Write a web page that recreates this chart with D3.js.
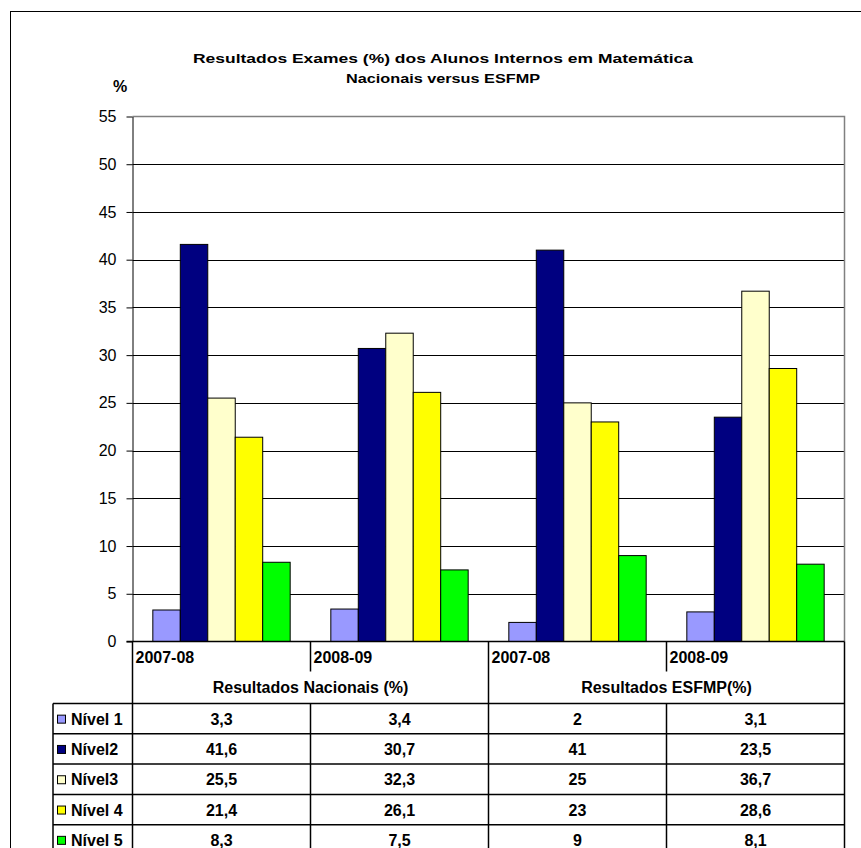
<!DOCTYPE html>
<html>
<head>
<meta charset="utf-8">
<script src="https://cdn.jsdelivr.net/npm/d3@7"></script>
<style>
  body { margin: 0; background: #fff; }
  svg { display: block; font-family: Arial, "Liberation Sans", sans-serif; }
</style>
</head>
<body>
<div id="chart"></div>
<script>
// chart values
var groups = ["Resultados Nacionais (%)", "Resultados ESFMP(%)"];
var years = ["2007-08", "2008-09"];
var levels = ["Nível 1", "Nível2", "Nível3", "Nível 4", "Nível 5"];
var nivel1 = [3.3, 3.4, 2, 3.1];
var nivel2 = [41.6, 30.7, 41, 23.5];
var nivel3 = [25.5, 32.3, 25, 36.7];
var nivel4 = [21.4, 26.1, 23, 28.6];
var nivel5 = [8.3, 7.5, 9, 8.1];
var yTicks = [0, 5, 10, 15, 20, 25, 30, 35, 40, 45, 50, 55];
var titleLines = ["Resultados Exames (%) dos Alunos Internos em Matemática", "Nacionais versus ESFMP"];

var colors = ["#9999ff", "#000080", "#ffffcc", "#ffff00", "#00ff00"];
var series = [nivel1, nivel2, nivel3, nivel4, nivel5];

// columns = group x year
var columns = [];
groups.forEach(function(g, gi) {
	years.forEach(function(yr) {
		columns.push({ key: gi + "|" + yr, group: g, year: yr, gi: gi });
	});
});

var width = 861, height = 848;
var plot = { left: 132.5, right: 844.5, top: 116.5, bottom: 641.5 };

var svg = d3.select("#chart").append("svg")
	.attr("width", width)
	.attr("height", height);

// outer chart border (runs off the right / bottom edge like the original)
svg.append("rect")
	.attr("x", 10.5).attr("y", 11.5)
	.attr("width", width).attr("height", height)
	.attr("fill", "none").attr("stroke", "#000");

// scales
var x0 = d3.scaleBand()
	.domain(columns.map(function(c) { return c.key; }))
	.range([plot.left, plot.right]);

var x1 = d3.scaleBand()
	.domain(levels)
	.range([0, x0.bandwidth()])
	.paddingOuter(0.74);

var y = d3.scaleLinear()
	.domain([0, 55])
	.range([plot.bottom, plot.top]);

// gridlines
svg.append("g")
	.selectAll("line")
	.data(yTicks.filter(function(t) { return t > 0 && t < 55; }))
	.enter().append("line")
		.attr("x1", plot.left).attr("x2", plot.right)
		.attr("y1", function(d) { return Math.round(y(d)) + 0.5; })
		.attr("y2", function(d) { return Math.round(y(d)) + 0.5; })
		.attr("stroke", "#000");

// plot area border top / right (grey)
svg.append("path")
	.attr("d", "M" + plot.left + "," + y(55) + "H" + plot.right + "V" + plot.bottom)
	.attr("fill", "none").attr("stroke", "#808080").attr("stroke-width", 1.5);

// bars
columns.forEach(function(c, ci) {
	svg.append("g")
		.attr("transform", "translate(" + x0(c.key) + ",0)")
		.selectAll("rect")
		.data(levels.map(function(l, li) { return { level: l, li: li, value: series[li][ci] }; }))
		.enter().append("rect")
			.attr("x", function(d) { return x1(d.level); })
			.attr("y", function(d) { return y(d.value); })
			.attr("width", x1.bandwidth())
			.attr("height", function(d) { return y(0) - y(d.value); })
			.attr("fill", function(d) { return colors[d.li]; })
			.attr("stroke", "#000")
			.attr("stroke-width", 1);
});

// y axis
var yAxis = d3.axisLeft(y)
	.tickValues(yTicks)
	.tickSizeInner(6)
	.tickSizeOuter(0)
	.tickPadding(10);

var gy = svg.append("g")
	.attr("transform", "translate(" + plot.left + ",0)")
	.call(yAxis);
gy.selectAll("text")
	.attr("font-size", 16)
	.attr("font-family", "Arial, 'Liberation Sans', sans-serif")
	.attr("fill", "#000");
gy.selectAll("line").attr("stroke", "#000");
gy.select(".domain").attr("stroke", "#000");

// x axis line (zero line)
svg.append("line")
	.attr("x1", plot.left - 6).attr("x2", plot.right)
	.attr("y1", y(0)).attr("y2", y(0))
	.attr("stroke", "#000").attr("stroke-width", 1.5);

// axis title "%"
svg.append("text")
	.attr("x", 120).attr("y", 92)
	.attr("text-anchor", "middle")
	.attr("font-size", 16).attr("font-weight", "bold")
	.text("%");

// chart title (glyphs stretched like the original export)
svg.selectAll(".title")
	.data(titleLines)
	.enter().append("text")
		.attr("class", "title")
		.attr("x", 443)
		.attr("y", function(d, i) { return 63 + i * 20; })
		.attr("text-anchor", "middle")
		.attr("font-size", 13).attr("font-weight", "bold")
		.attr("textLength", function(d, i) { return i === 0 ? 500 : 194; })
		.attr("lengthAdjust", "spacingAndGlyphs")
		.text(function(d) { return d; });

// ---- data table ----
var headTop = plot.bottom, headMid = 671.5, rowTop = 703.5, rowH = 30.3;
var tableBottom = rowTop + levels.length * rowH;
var legendLeft = 53;

var rowY = d3.scaleBand()
	.domain(levels)
	.range([rowTop, tableBottom]);

var table = svg.append("g")
	.attr("stroke", "#000")
	.attr("stroke-width", 1.5)
	.attr("fill", "none");

// horizontal lines
table.append("line")
	.attr("x1", legendLeft).attr("x2", plot.right)
	.attr("y1", rowTop).attr("y2", rowTop);
table.selectAll(".hrow")
	.data(levels)
	.enter().append("line")
		.attr("x1", legendLeft).attr("x2", plot.right)
		.attr("y1", function(d) { return rowY(d) + rowY.bandwidth(); })
		.attr("y2", function(d) { return rowY(d) + rowY.bandwidth(); });

// vertical lines: left of table, group boundary, right edge
[plot.left, x0(columns[2].key), plot.right].forEach(function(xv) {
	table.append("line")
		.attr("x1", xv).attr("x2", xv)
		.attr("y1", headTop).attr("y2", tableBottom);
});
// year dividers inside a group (short in the header, full in the rows)
[x0(columns[1].key), x0(columns[3].key)].forEach(function(xv) {
	table.append("line")
		.attr("x1", xv).attr("x2", xv)
		.attr("y1", headTop).attr("y2", headMid);
	table.append("line")
		.attr("x1", xv).attr("x2", xv)
		.attr("y1", rowTop).attr("y2", tableBottom);
});
// legend column left border
table.append("line")
	.attr("x1", legendLeft).attr("x2", legendLeft)
	.attr("y1", rowTop).attr("y2", tableBottom);

var txt = svg.append("g")
	.attr("font-size", 16)
	.attr("font-weight", "bold")
	.attr("fill", "#000");

// year labels
columns.forEach(function(c) {
	txt.append("text")
		.attr("x", x0(c.key) + 3)
		.attr("y", 663)
		.text(c.year);
});

// group labels
groups.forEach(function(g, gi) {
	var a = x0(columns[gi * 2].key);
	var b = x0(columns[gi * 2 + 1].key) + x0.bandwidth();
	txt.append("text")
		.attr("x", (a + b) / 2)
		.attr("y", 692.5)
		.attr("text-anchor", "middle")
		.text(g);
});

// legend keys + labels
levels.forEach(function(l, li) {
	var cy = rowY(l) + rowY.bandwidth() / 2;
	svg.append("rect")
		.attr("x", 57.5).attr("y", cy - 3.5)
		.attr("width", 8).attr("height", 8)
		.attr("fill", colors[li])
		.attr("stroke", "#000").attr("stroke-width", 1);
	txt.append("text")
		.attr("x", 71)
		.attr("y", cy + 6)
		.text(l);
});

// values
function fmt(v) { return String(v).replace(".", ","); }
levels.forEach(function(l, li) {
	var cy = rowY(l) + rowY.bandwidth() / 2;
	columns.forEach(function(c, ci) {
		txt.append("text")
			.attr("x", x0(c.key) + x0.bandwidth() / 2)
			.attr("y", cy + 6)
			.attr("text-anchor", "middle")
			.text(fmt(series[li][ci]));
	});
});
</script>
</body>
</html>
